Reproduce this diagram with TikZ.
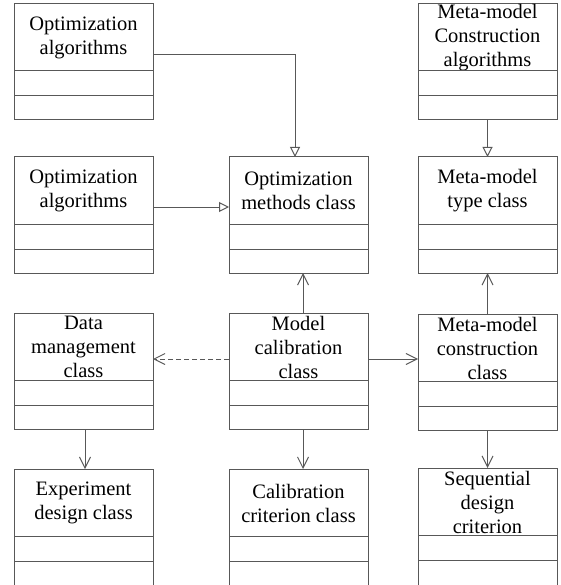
\documentclass[tikz,border=0pt]{standalone}
\usepackage{fontspec}
\setmainfont{Liberation Serif}
\usetikzlibrary{arrows.meta}
\definecolor{umlgray}{RGB}{88,88,88}
\tikzset{
  classbox/.style={draw=umlgray, line width=1pt, rectangle, minimum width=139pt,
    inner sep=0pt, outer sep=0pt, anchor=north west},
  classline/.style={draw=umlgray, line width=1pt},
  classtitle/.style={align=center, inner sep=0pt, text=black,
    font=\fontsize{20.5}{24}\selectfont},
  link/.style={draw=umlgray, line width=1pt},
  inherit/.style={link, -{Triangle[open, length=10pt, width=10pt]}},
  assoc/.style={link, -{Straight Barb[length=11pt, width=11pt, line width=1pt]}},
  depend/.style={assoc, dash pattern=on 5pt off 3pt},
}
% \umlclass{name}{left}{top}{title}{total height}
\newcommand\umlclass[5]{%
  \node[classbox, minimum height=#5pt] (#1) at (#2,#3) {};
  \node[classtitle] (#1-title) at ([yshift=-34pt]#1.north) {#4};
  \draw[classline] ([yshift=-67pt]#1.north west) -- ([yshift=-67pt]#1.north east);
  \draw[classline] ([yshift=-92pt]#1.north west) -- ([yshift=-92pt]#1.north east);
}
\begin{document}
\begin{tikzpicture}[x=1pt, y=-1pt]
  \useasboundingbox (0,0) rectangle (560,585);
  \clip (0,0) rectangle (560,585);

  % first row
  \umlclass{optalgA}{14}{4}{Optimization\\algorithms}{116}
  \umlclass{mmalg}{418}{4}{Meta-model\\Construction\\algorithms}{116}
  % second row
  \umlclass{optalgB}{14}{157}{Optimization\\algorithms}{116}
  \umlclass{optmeth}{229}{157}{Optimization\\methods class}{116}
  \umlclass{mmtype}{418}{157}{Meta-model\\type class}{116}
  % third row
  \umlclass{datamgmt}{14}{313}{Data\\management\\class}{116}
  \umlclass{modelcal}{229}{313}{Model\\calibration\\class}{116}
  \umlclass{mmcons}{418}{314}{Meta-model\\construction\\class}{116}
  % fourth row (runs past the lower edge)
  \umlclass{expdesign}{14}{469}{Experiment\\design class}{130}
  \umlclass{calcrit}{229}{469}{Calibration\\criterion class}{130}
  \umlclass{seqdesign}{418}{468}{Sequential\\design\\criterion}{130}

  % generalisations
  \draw[inherit] ([yshift=-51pt]optalgA.north east) -| ([xshift=-3.5pt]optmeth.north);
  \draw[inherit] ([yshift=-50pt]optalgB.north east) -- ([yshift=-50pt]optmeth.north west);
  \draw[inherit] (mmalg.south) -- (mmtype.north);

  % associations
  \draw[assoc] ([xshift=4.5pt]modelcal.north) -- ([xshift=4.5pt]optmeth.south);
  \draw[assoc] (mmcons.north) -- (mmtype.south);
  \draw[depend] ([yshift=-46pt]modelcal.north west) -- ([yshift=-46pt]datamgmt.north east);
  \draw[assoc] ([yshift=-46pt]modelcal.north east) -- ([yshift=-45pt]mmcons.north west);
  \draw[assoc] ([xshift=1.5pt]datamgmt.south) -- ([xshift=1.5pt]expdesign.north);
  \draw[assoc] ([xshift=4.5pt]modelcal.south) -- ([xshift=4.5pt]calcrit.north);
  \draw[assoc] (mmcons.south) -- (seqdesign.north);
\end{tikzpicture}
\end{document}
